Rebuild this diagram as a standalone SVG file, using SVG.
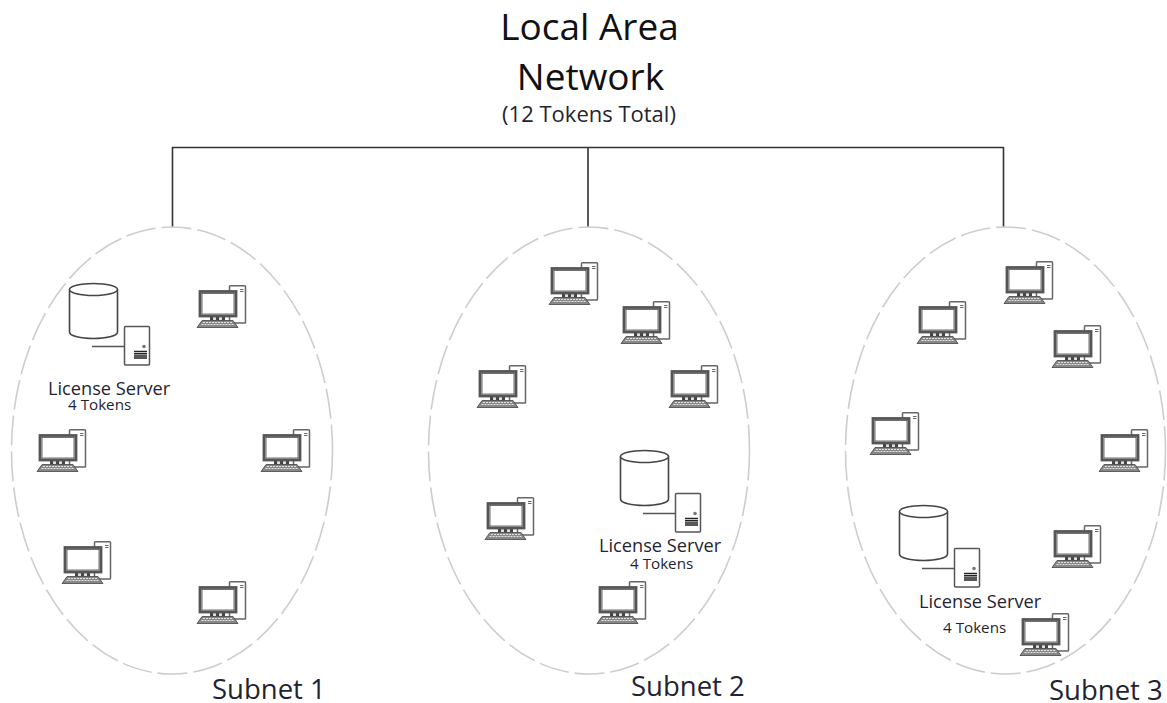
<svg xmlns="http://www.w3.org/2000/svg" width="1167" height="703" viewBox="0 0 1167 703">
<style>
text{font-family:"Open Sans","Noto Sans","Liberation Sans",sans-serif;fill:#1f2430}
.t{font-size:37px;text-anchor:middle;fill:#111}
.s{font-size:22px;text-anchor:middle}
.n{font-size:27.5px}
.l{font-size:18.2px}
.k{font-size:15.200px}
.sub{fill:#fff;stroke:#cdcdcd;stroke-width:1.600;stroke-dasharray:30 6}
.c{fill:none;stroke:#333;stroke-width:1.600}
</style>
<defs>
<symbol id="pc" width="50" height="45" viewBox="0 0 50 45" overflow="visible">
<rect x="32.500" y="0.700" width="16" height="37.300" rx="0.800" fill="#fff" stroke="#666" stroke-width="1.500"/>
<path d="M43 4.500H46.500M43 6.500H46.500" stroke="#666" stroke-width="1.100"/>
<rect x="13" y="31" width="15" height="4.500" fill="#444"/>
<rect x="16" y="32" width="3" height="3" fill="#ddd"/><rect x="22" y="32" width="3" height="3" fill="#ddd"/>
<rect x="3" y="6.500" width="36" height="24.500" fill="#fff" stroke="#555" stroke-width="2.800"/>
<rect x="5" y="8.500" width="32" height="20.500" fill="#fff" stroke="#333" stroke-width="0.700"/>
<path d="M5 35.500H36L41 42.500H0Z" fill="#888" stroke="#444" stroke-width="0.800"/>
<path d="M6 37.500H35M4.500 39.500H37" stroke="#e4e4e4" stroke-width="1" stroke-dasharray="2 1"/>
</symbol>
<symbol id="db" width="82" height="83" viewBox="0 0 82 83" overflow="visible">
<path d="M0.500 6.500V49C0.500 53 12 55.500 24.500 55.500S48.500 53 48.500 49V6.500" fill="#fff" stroke="#444" stroke-width="1.600"/>
<ellipse cx="24.500" cy="6.500" rx="24" ry="6" fill="#fff" stroke="#444" stroke-width="1.600"/>
<path d="M23 63.500H56" stroke="#555" stroke-width="1.500"/>
<rect x="55.500" y="43.500" width="25" height="38.500" rx="1" fill="#fff" stroke="#555" stroke-width="1.500"/>
<circle cx="75" cy="63.500" r="1.800" fill="#777"/>
<path d="M65 68.500H78M65 70.700H78M65 72.900H78M65 75.100H78" stroke="#222" stroke-width="1.500"/>
</symbol>
</defs>
<g id="connectors">
<path class="c" d="M172 147.500H1003.500M172.500 147V227M588 147V227M1003.500 147V227"/>
</g>
<g id="title">
<text class="t" x="589.500" y="40">Local Area</text>
<text class="t" x="590.500" y="90">Network</text>
<text class="s" x="589" y="122">(12 Tokens Total)</text>
</g>
<g id="subnet-1">
<ellipse class="sub" cx="172" cy="450.500" rx="160.500" ry="223.500"/>
<text class="n" x="212" y="699">Subnet 1</text>
<g id="server-1"><use href="#db" x="69" y="283"/><text class="l" x="48" y="394.500">License Server</text><text class="k" x="68" y="409.500">4 Tokens</text></g>
<g id="pc-1-1"><use href="#pc" x="197" y="285"/></g>
<g id="pc-1-2"><use href="#pc" x="37" y="429"/></g>
<g id="pc-1-3"><use href="#pc" x="261" y="429"/></g>
<g id="pc-1-4"><use href="#pc" x="62" y="541"/></g>
<g id="pc-1-5"><use href="#pc" x="197" y="581"/></g>
</g>
<g id="subnet-2">
<ellipse class="sub" cx="589" cy="450.500" rx="160.500" ry="223.500"/>
<text class="n" x="631" y="696">Subnet 2</text>
<g id="server-2"><use href="#db" x="620" y="450"/><text class="l" x="599" y="552">License Server</text><text class="k" x="630" y="569">4 Tokens</text></g>
<g id="pc-2-1"><use href="#pc" x="549" y="262"/></g>
<g id="pc-2-2"><use href="#pc" x="621" y="301"/></g>
<g id="pc-2-3"><use href="#pc" x="477" y="365"/></g>
<g id="pc-2-4"><use href="#pc" x="669" y="365"/></g>
<g id="pc-2-5"><use href="#pc" x="485" y="497"/></g>
<g id="pc-2-6"><use href="#pc" x="597" y="581"/></g>
</g>
<g id="subnet-3">
<ellipse class="sub" cx="1005.500" cy="450.500" rx="160" ry="223.500"/>
<text class="n" x="1049" y="700">Subnet 3</text>
<g id="server-3"><use href="#db" x="899" y="505"/><text class="l" x="919" y="608">License Server</text><text class="k" x="943" y="633">4 Tokens</text></g>
<g id="pc-3-1"><use href="#pc" x="1004" y="261"/></g>
<g id="pc-3-2"><use href="#pc" x="917" y="301"/></g>
<g id="pc-3-3"><use href="#pc" x="1052" y="325"/></g>
<g id="pc-3-4"><use href="#pc" x="870" y="412"/></g>
<g id="pc-3-5"><use href="#pc" x="1099" y="429"/></g>
<g id="pc-3-6"><use href="#pc" x="1052" y="525"/></g>
<g id="pc-3-7"><use href="#pc" x="1020" y="613"/></g>
</g>
</svg>
